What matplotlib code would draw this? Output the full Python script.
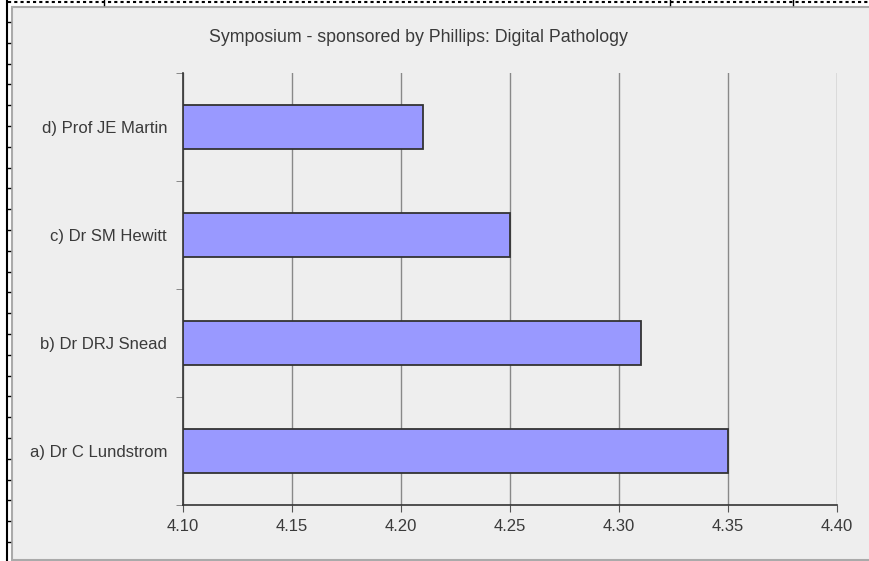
import matplotlib
matplotlib.use("Agg")
import matplotlib.pyplot as plt
from matplotlib.patches import Rectangle
from matplotlib.lines import Line2D
import numpy as np

plt.rcParams['font.family'] = ['Liberation Sans', 'DejaVu Sans']

categories = ["a) Dr C Lundstrom", "b) Dr DRJ Snead", "c) Dr SM Hewitt", "d) Prof JE Martin"]
values = [4.35, 4.31, 4.25, 4.21]
xticks = [4.10, 4.15, 4.20, 4.25, 4.30, 4.35, 4.40]
title = "Symposium - sponsored by Phillips: Digital Pathology"

W, H = 870, 561
fig = plt.figure(figsize=(W / 100, H / 100), dpi=100, facecolor="white")

def fx(px):
    return px / W

def fy(py):
    return 1 - py / H

FS_T = 12.8
FS = 12.0
TC = "#3a3a3a"

# chart area background with border
fig.patches.append(Rectangle((fx(12), fy(560)), fx(880) - fx(12), fy(6.5) - fy(560),
                             transform=fig.transFigure, facecolor="#eeeeee",
                             edgecolor="#aaaaaa", linewidth=1.5, zorder=-10))
# outer dotted border (top) and left solid line with ruler marks
fig.lines.append(Line2D([fx(8), fx(870)], [fy(1.5), fy(1.5)], transform=fig.transFigure,
                        color="black", linewidth=1.5, linestyle=(0, (1.5, 1.5)), zorder=-5))
fig.lines.append(Line2D([fx(7.5), fx(7.5)], [fy(0), fy(561)], transform=fig.transFigure,
                        color="black", linewidth=1.5, zorder=-5))
for py in np.arange(22, 561, 20.8):
    fig.lines.append(Line2D([fx(7.5), fx(10)], [fy(py), fy(py)], transform=fig.transFigure,
                            color="black", linewidth=1.0, zorder=-5))
for px in [104, 670, 793]:
    fig.lines.append(Line2D([fx(px), fx(px)], [fy(0), fy(5)], transform=fig.transFigure,
                            color="black", linewidth=1.0, zorder=-5))

ax = fig.add_axes([fx(183), fy(505), fx(837) - fx(183), fy(73) - fy(505)])
ax.set_facecolor("none")
ax.set_zorder(5)

y = np.arange(len(categories))
ax.barh(y, [v - xticks[0] for v in values], left=xticks[0], height=0.4,
        color="#9999ff", edgecolor="#333333", linewidth=1.3, zorder=3)

ax.set_xlim(xticks[0], xticks[-1])
ax.set_ylim(-0.5, len(categories) - 0.5)
ax.set_xticks(xticks)
ax.set_xticklabels([f"{t:.2f}" for t in xticks])
ax.set_yticks(y)
ax.set_yticklabels(categories)
ax.set_yticks(np.arange(-0.5, len(categories), 1.0), minor=True)

ax.grid(axis="x", color="#888888", linewidth=1.0, zorder=1)
for s in ["top", "right"]:
    ax.spines[s].set_visible(False)
for s in ["left", "bottom"]:
    ax.spines[s].set_color("#333333")
    ax.spines[s].set_linewidth(1.2)

ax.tick_params(axis="y", which="major", length=0, pad=11.5, labelsize=FS, labelcolor=TC)
ax.tick_params(axis="y", which="minor", length=5, color="#777777", direction="out")
ax.tick_params(axis="x", which="major", length=5, color="#555555", pad=5,
               labelsize=FS, labelcolor=TC)

fig.text(fx(418), fy(37), title, ha="center", va="center", fontsize=FS_T, color=TC)

fig.savefig("out.png", dpi=100, facecolor=fig.get_facecolor())
